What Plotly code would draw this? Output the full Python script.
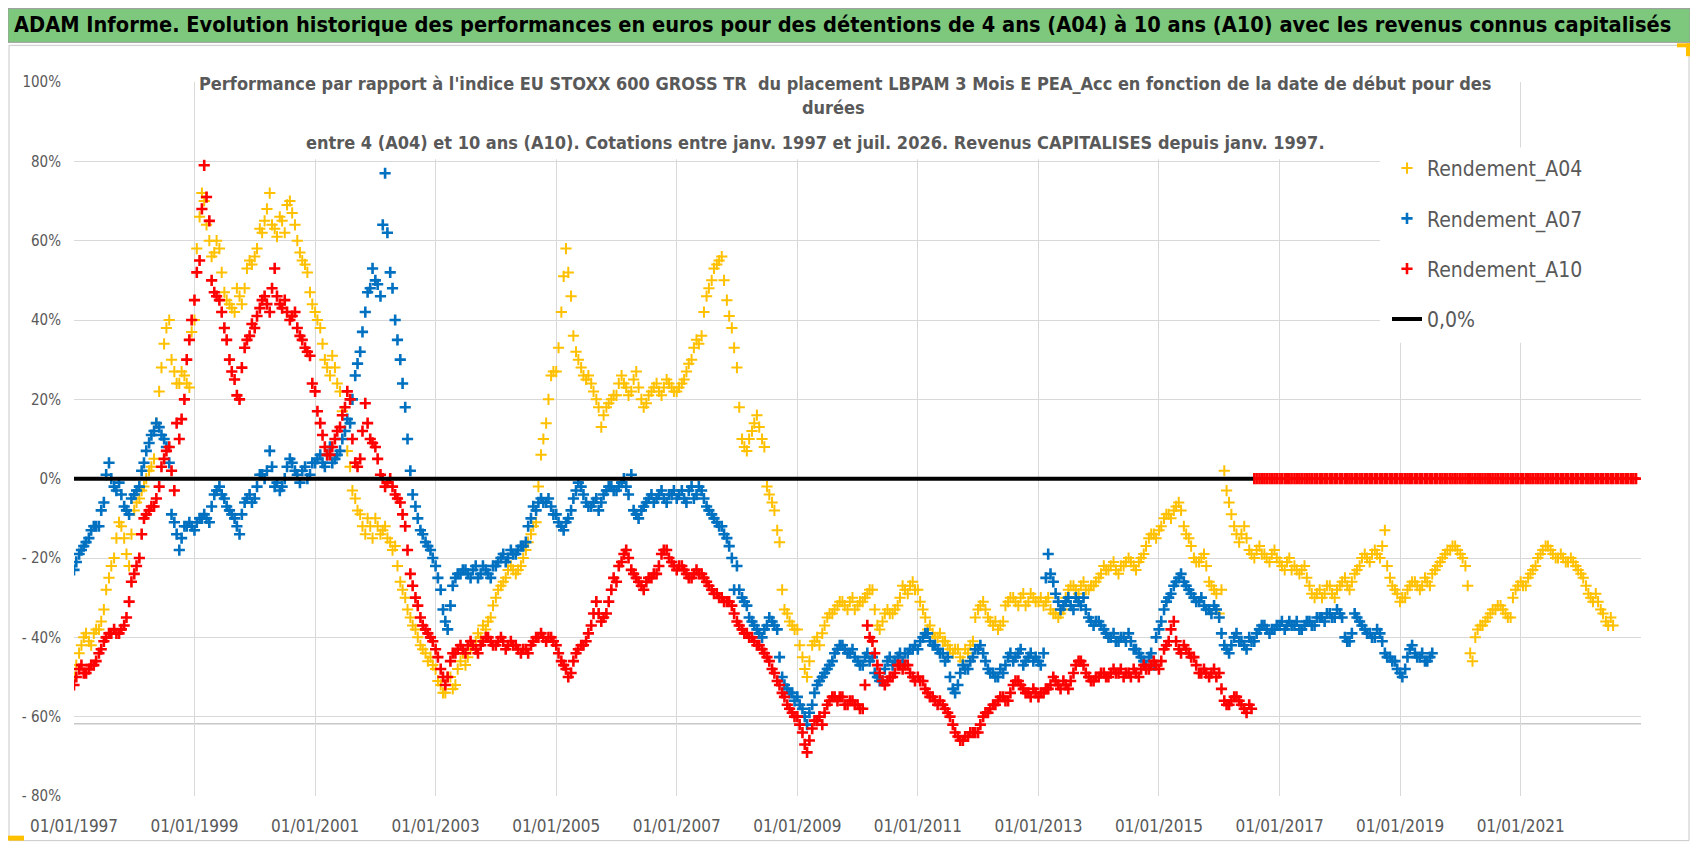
import pandas as pd
import plotly.graph_objects as go

# ---------------- data (values in %) ----------------
# month-start readings
a04_start = "1997-01-01"
a04 = [
    -50, -44, -40, -41, -39, -38, -33, -25, -20, -11, -15, -22,   # 1997
    -8, -5, -2, 2, 5, 22, 34, 40, 27, 24, 26, 23,                 # 1998
    40, 66, 70, 60, 57, 58, 47, 44, 42, 46, 48, 55,               # 1999
    56, 63, 65, 72, 63, 66, 62, 70, 64, 57, 54, 47,               # 2000
    42, 38, 30, 26, 28, 22, 12, 3, -5, -9, -14, -12,              # 2001
    -10, -14, -12, -16, -17, -26, -30, -35, -38, -42, -44, -45,   # 2002
    -48, -52, -54, -50, -52, -46, -47, -43, -41, -40, -38, -35,   # 2003
    -30, -27, -25, -22, -24, -22, -18, -14, -11, 6, 14, 26,       # 2004
    27, 42, 58, 46, 32, 28, 25, 24, 20, 13, 18, 20,               # 2005
    21, 26, 23, 22, 27, 20, 19, 22, 24, 21, 25, 23,               # 2006
    22, 24, 27, 30, 35, 36, 46, 50, 54, 56, 45, 38,               # 2007
    28, 10, 7, 12, 16, 10, -2, -6, -13, -28, -34, -37,            # 2008
    -38, -45, -50, -42, -40, -39, -35, -34, -32, -31, -33, -30,   # 2009
    -32, -31, -29, -28, -37, -36, -33, -34, -32, -27, -29, -26,   # 2010
    -28, -33, -38, -39, -40, -41, -42, -44, -43, -46, -44, -41,   # 2011
    -33, -31, -35, -37, -38, -36, -31, -30, -32, -29, -31, -30,   # 2012
    -31, -32, -30, -34, -35, -33, -28, -27, -29, -26, -28, -27,   # 2013
    -25, -22, -23, -21, -24, -22, -20, -22, -21, -19, -15, -14,   # 2014
    -13, -10, -9, -8, -6, -12, -15, -20, -21, -19, -26, -28,      # 2015
    -34, 2, -6, -12, -16, -12, -18, -20, -17, -19, -21, -18,      # 2016
    -21, -23, -20, -22, -24, -22, -27, -30, -28, -29, -27, -30,   # 2017
    -27, -25, -28, -24, -22, -19, -21, -18, -20, -13, -25, -28,   # 2018
    -31, -30, -27, -26, -28, -25, -27, -23, -21, -19, -18, -17,   # 2019
    -19, -22, -44, -40, -37, -36, -34, -33, -32, -34, -35, -28,   # 2020
    -26, -27, -24, -22, -19, -17, -18, -20, -19, -21, -20, -22,   # 2021
    -24, -27, -30, -29, -33, -36, -35,                            # 2022
]
# mid-month readings
a04_mid = [
    -47, -42, -39, -42, -38, -36, -28, -22, -15, -12, -19, -14,   # 1997
    -6, -3, 0, 3, 14, 28, 38, 30, 24, 27, 24, 37,                 # 1998
    58, 72, 64, 56, 60, 52, 45, 43, 48, 44, 53, 54,               # 1999
    58, 62, 68, 64, 61, 65, 69, 67, 60, 55, 52, 44,               # 2000
    40, 34, 28, 31, 24, 17, 7, -3, -8, -12, -10, -15,             # 2001
    -12, -13, -15, -18, -22, -28, -33, -37, -40, -43, -46, -47,   # 2002
    -51, -54, -50, -53, -48, -44, -45, -42, -39, -37, -36, -32,   # 2003
    -28, -26, -23, -23, -23, -20, -16, -12, -2, 10, 20, 27,       # 2004
    33, 51, 52, 36, 30, 26, 26, 22, 18, 16, 19, 21,               # 2005
    24, 24, 21, 25, 23, 18, 21, 23, 22, 23, 24, 22,               # 2006
    23, 25, 29, 33, 34, 42, 48, 53, 55, 50, 41, 33,               # 2007
    18, 8, 10, 14, 13, 8, -4, -8, -16, -33, -36, -38,             # 2008
    -42, -48, -46, -41, -42, -37, -34, -33, -31, -32, -31, -33,   # 2009
    -31, -30, -28, -33, -38, -34, -34, -33, -30, -28, -27, -28,   # 2010
    -31, -35, -37, -40, -39, -41, -43, -43, -45, -43, -42, -35,   # 2011
    -32, -33, -36, -36, -37, -32, -30, -31, -30, -32, -29, -31,   # 2012
    -30, -31, -33, -34, -34, -30, -27, -28, -27, -28, -27, -26,   # 2013
    -24, -23, -22, -23, -22, -21, -21, -23, -20, -17, -14, -15,   # 2014
    -12, -9, -10, -7, -8, -14, -17, -21, -20, -22, -27, -29,      # 2015
    -28, -3, -9, -14, -14, -15, -19, -18, -19, -20, -19, -20,     # 2016
    -22, -21, -23, -23, -23, -25, -29, -29, -30, -27, -29, -28,   # 2017
    -26, -27, -26, -23, -20, -20, -19, -19, -17, -22, -27, -29,   # 2018
    -30, -28, -26, -27, -27, -26, -24, -22, -20, -18, -17, -18,   # 2019
    -20, -27, -46, -38, -37, -35, -33, -32, -33, -35, -30, -27,   # 2020
    -27, -25, -23, -20, -18, -17, -19, -20, -20, -21, -21, -23,   # 2021
    -25, -29, -31, -31, -34, -37, -37,                            # 2022
]

a07_start = "1997-01-01"
a07 = [
    -23, -19, -17, -15, -12, -12, -6, 4, -2, -1, -7, -9,          # 1997
    -4, -2, 4, 9, 12, 13, 10, 4, -11, -18, -12, -11,              # 1998
    -13, -10, -9, -11, -4, -2, -5, -8, -10, -14, -6, -4,          # 1999
    -5, 1, 0, 7, -2, -3, 0, 5, 2, -1, 3, 1,                       # 2000
    4, 6, 3, 8, 5, 7, 12, 14, 26, 32, 42, 48,                     # 2001
    50, 46, 77, 52, 40, 30, 18, 2, -7, -13, -16, -18,             # 2002
    -22, -28, -36, -32, -25, -24, -23, -25, -22, -24, -23, -25,   # 2003
    -22, -20, -21, -18, -19, -17, -16, -10, -8, -5, -6, -7,       # 2004
    -9, -12, -11, -8, -3, -2, -6, -7, -5, -6, -3, -2,             # 2005
    -3, -1, -2, 1, -9, -8, -6, -4, -5, -3, -6, -4,                # 2006
    -5, -3, -6, -2, -4, -3, -7, -9, -11, -12, -15, -20,           # 2007
    -22, -30, -32, -36, -38, -40, -37, -36, -38, -50, -53, -54,   # 2008
    -55, -58, -62, -57, -52, -50, -48, -46, -43, -42, -44, -43,   # 2009
    -46, -47, -44, -45, -50, -51, -46, -47, -45, -46, -44, -43,   # 2010
    -43, -40, -39, -42, -43, -44, -45, -53, -52, -47, -48, -45,   # 2011
    -43, -44, -48, -49, -50, -49, -45, -46, -44, -47, -45, -46,   # 2012
    -46, -44, -19, -26, -31, -32, -30, -33, -31, -30, -35, -37,   # 2013
    -36, -38, -40, -39, -41, -40, -39, -43, -44, -46, -45, -47,   # 2014
    -38, -33, -30, -27, -25, -26, -28, -30, -31, -32, -33, -32,   # 2015
    -35, -42, -44, -40, -41, -42, -40, -41, -38, -37, -39, -38,   # 2016
    -37, -38, -36, -37, -38, -37, -36, -37, -35, -36, -34, -35,   # 2017
    -34, -40, -41, -34, -36, -38, -39, -40, -39, -44, -45, -46,   # 2018
    -49, -48, -43, -44, -45, -46, -45,                            # 2019
]
a07_mid = [
    -21, -18, -16, -13, -12, -8, 1, 0, -3, -4, -8, -5,            # 1997
    -3, 2, 7, 11, 14, 11, 8, -9, -14, -15, -12, -12,              # 1998
    -11, -10, -10, -7, -3, -4, -7, -9, -12, -9, -5, -6,           # 1999
    -2, 1, 2, 3, -1, -2, 3, 4, 1, 2, 0, 4,                        # 2000
    5, 4, 6, 4, 6, 10, 15, 20, 29, 37, 47, 53,                    # 2001
    49, 64, 62, 48, 35, 24, 10, -4, -10, -14, -17, -20,           # 2002
    -25, -33, -38, -27, -24, -23, -24, -23, -25, -22, -24, -22,   # 2003
    -21, -19, -20, -19, -18, -17, -12, -7, -6, -6, -5, -9,        # 2004
    -11, -13, -10, -5, -1, -4, -7, -6, -8, -4, -2, -3,            # 2005
    -2, 0, -4, -8, -10, -7, -5, -6, -4, -5, -4, -3,               # 2006
    -4, -5, -3, -5, -2, -5, -8, -10, -12, -14, -17, -28,          # 2007
    -28, -31, -35, -37, -39, -38, -35, -37, -45, -52, -54, -56,   # 2008
    -57, -60, -59, -54, -51, -49, -47, -44, -42, -43, -44, -45,   # 2009
    -47, -45, -46, -49, -51, -48, -45, -46, -44, -44, -43, -42,   # 2010
    -41, -39, -41, -42, -44, -46, -50, -54, -49, -48, -46, -43,   # 2011
    -42, -46, -49, -50, -48, -47, -44, -45, -43, -46, -44, -45,   # 2012
    -47, -25, -24, -29, -33, -31, -32, -30, -32, -33, -36, -36,   # 2013
    -37, -39, -40, -41, -40, -41, -41, -43, -45, -47, -44, -40,   # 2014
    -36, -31, -29, -26, -24, -27, -29, -31, -30, -33, -34, -33,   # 2015
    -39, -43, -42, -39, -41, -43, -41, -39, -37, -38, -38, -37,   # 2016
    -36, -37, -37, -36, -38, -36, -37, -35, -35, -34, -35, -33,   # 2017
    -35, -41, -39, -35, -37, -39, -40, -38, -41, -45, -46, -48,   # 2018
    -50, -45, -42, -45, -44, -46, -44,                            # 2019
]

a10_start = "1997-01-01"
a10 = [
    -52, -48, -49, -48, -47, -44, -41, -39, -38, -39, -37, -31,   # 1997
    -24, -20, -10, -8, -7, -2, 5, 8, -3, 10, 20, 35,              # 1998
    45, 55, 79, 65, 47, 45, 38, 30, 25, 20, 33, 36,               # 1999
    38, 43, 46, 42, 53, 44, 45, 40, 42, 36, 33, 31,               # 2000
    22, 14, 8, 6, 10, 13, 18, 20, 4, 5, 19, 10,                   # 2001
    8, 1, -2, 0, -4, -6, -12, -24, -30, -35, -38, -40,            # 2002
    -43, -48, -52, -46, -44, -42, -44, -41, -43, -42, -40, -41,   # 2003
    -42, -40, -43, -41, -42, -44, -43, -42, -40, -39, -41, -40,   # 2004
    -42, -46, -48, -49, -44, -42, -41, -37, -31, -36, -34, -28,   # 2005
    -26, -21, -18, -23, -25, -27, -26, -25, -24, -19, -18, -21,   # 2006
    -23, -22, -24, -25, -23, -24, -26, -28, -29, -30, -31, -32,   # 2007
    -36, -38, -39, -40, -42, -43, -45, -48, -51, -54, -57, -59,   # 2008
    -60, -64, -69, -63, -61, -62, -57, -55, -56, -55, -57, -56,   # 2009
    -57, -58, -37, -41, -47, -51, -51, -50, -47, -48, -47, -50,   # 2010
    -50, -51, -54, -55, -57, -57, -59, -62, -65, -66, -65, -64,   # 2011
    -64, -60, -59, -57, -56, -55, -56, -52, -51, -53, -54, -53,   # 2012
    -55, -54, -53, -50, -52, -51, -53, -49, -46, -47, -50, -51,   # 2013
    -50, -49, -50, -48, -49, -50, -49, -48, -50, -47, -48, -46,   # 2014
    -48, -43, -41, -36, -43, -42, -44, -45, -49, -48, -50, -48,   # 2015
    -49, -56, -57, -55, -56, -58, -57, 0, 0, 0, 0, 0,             # 2016
    0, 0, 0, 0, 0, 0, 0, 0, 0, 0, 0, 0,                           # 2017
    0, 0, 0, 0, 0, 0, 0, 0, 0, 0, 0, 0,                           # 2018
    0, 0, 0, 0, 0, 0, 0, 0, 0, 0, 0, 0,                           # 2019
    0, 0, 0, 0, 0, 0, 0, 0, 0, 0, 0, 0,                           # 2020
    0, 0, 0, 0, 0, 0, 0, 0, 0, 0, 0, 0,                           # 2021
    0, 0, 0, 0, 0, 0, 0, 0, 0, 0, 0, 0,                           # 2022
]
a10_mid = [
    -50, -47, -49, -47, -46, -43, -40, -39, -39, -38, -35, -26,   # 1997
    -22, -14, -9, -7, -5, 3, 7, 2, 14, 15, 30, 40,                # 1998
    52, 68, 71, 50, 46, 42, 35, 27, 21, 28, 35, 39,               # 1999
    41, 45, 44, 48, 46, 43, 42, 41, 38, 35, 32, 24,               # 2000
    17, 11, 6, 8, 12, 16, 22, 10, 3, 12, 14, 9,                   # 2001
    5, 0, -1, -2, -5, -9, -18, -27, -32, -37, -39, -41,           # 2002
    -45, -50, -50, -44, -43, -43, -42, -42, -44, -41, -40, -42,   # 2003
    -41, -41, -42, -42, -43, -43, -44, -41, -40, -40, -40, -41,   # 2004
    -44, -47, -50, -46, -43, -42, -39, -34, -34, -35, -31, -25,   # 2005
    -22, -19, -20, -24, -26, -28, -25, -24, -22, -18, -20, -22,   # 2006
    -22, -23, -25, -24, -24, -25, -27, -29, -30, -31, -31, -34,   # 2007
    -37, -39, -40, -41, -42, -44, -46, -49, -52, -55, -58, -60,   # 2008
    -62, -67, -66, -61, -60, -59, -56, -55, -55, -57, -56, -57,   # 2009
    -58, -52, -40, -44, -49, -52, -50, -49, -47, -47, -49, -51,   # 2010
    -51, -53, -55, -56, -56, -58, -60, -64, -66, -65, -64, -64,   # 2011
    -62, -59, -58, -57, -55, -56, -54, -51, -52, -54, -55, -54,   # 2012
    -54, -53, -52, -51, -53, -52, -51, -47, -46, -49, -51, -50,   # 2013
    -49, -50, -49, -49, -48, -49, -50, -49, -48, -48, -47, -47,   # 2014
    -46, -42, -38, -41, -44, -43, -45, -47, -49, -49, -49, -50,   # 2015
    -53, -57, -56, -55, -57, -59, -58, 0, 0, 0, 0, 0,             # 2016
    0, 0, 0, 0, 0, 0, 0, 0, 0, 0, 0, 0,                           # 2017
    0, 0, 0, 0, 0, 0, 0, 0, 0, 0, 0, 0,                           # 2018
    0, 0, 0, 0, 0, 0, 0, 0, 0, 0, 0, 0,                           # 2019
    0, 0, 0, 0, 0, 0, 0, 0, 0, 0, 0, 0,                           # 2020
    0, 0, 0, 0, 0, 0, 0, 0, 0, 0, 0, 0,                           # 2021
    0, 0, 0, 0, 0, 0, 0, 0, 0, 0, 0,                              # 2022
]

zero_dates = ["1997-01-01", "2016-07-25"]
zero_values = [0, 0]
low_ref_value = -61.8

y_tickvals = [100, 80, 60, 40, 20, 0, -20, -40, -60, -80]
y_ticktext = ["100%", "80%", "60%", "40%", "20%", "0%", "- 20%", "- 40%", "- 60%", "- 80%"]
x_range = ["1997-01-01", "2022-12-31"]

series_names = ["Rendement_A04", "Rendement_A07", "Rendement_A10", "0,0%"]
series_colors = ["#FFC000", "#0070C0", "#FF0000", "#000000"]

banner_title = ("ADAM Informe. Evolution historique des performances en euros pour des "
                "détentions de 4 ans (A04) à 10 ans (A10) avec les revenus connus capitalisés")
sub_line1 = ("Performance par rapport à l'indice EU STOXX 600 GROSS TR  du placement LBPAM 3 Mois "
             "E PEA_Acc en fonction de la date de début pour des")
sub_line2 = "durées"
sub_line3 = ("entre 4 (A04) et 10 ans (A10). Cotations entre janv. 1997 et juil. 2026. "
             "Revenus CAPITALISES depuis janv. 1997.")

# ---------------- figure ----------------
FONT = "Liberation Sans Narrow, DejaVu Sans Condensed, Liberation Sans, sans-serif"
OFF = 8                       # page body margin
W, H = 1682, 840
ML, MR, MT, MB = 66, 49, 74, 46
PW, PH = W - ML - MR, H - MT - MB


def fx(x):   # screen x -> paper
    return (x - OFF - ML) / PW


def fy(y):   # screen y -> paper
    return 1 - (y - OFF - MT) / PH


fig = go.Figure()

marker_widths = [2.0, 2.6, 2.6]
for (name, start, vals, mids, col), lw in zip([
    (series_names[0], a04_start, a04, a04_mid, series_colors[0]),
    (series_names[1], a07_start, a07, a07_mid, series_colors[1]),
    (series_names[2], a10_start, a10, a10_mid, series_colors[2]),
], marker_widths):
    d1 = pd.date_range(start, periods=len(vals), freq="MS")
    d2 = pd.date_range(start, periods=len(mids), freq="MS") + pd.Timedelta(days=14)
    xs = list(d1) + list(d2)
    ys = list(vals) + list(mids)
    fig.add_trace(go.Scatter(
        x=xs, y=ys, mode="markers", name=name, legendgroup=name,
        marker=dict(symbol="cross-thin", size=8, line=dict(width=lw, color=col), color=col),
    ))

fig.add_trace(go.Scatter(
    x=pd.to_datetime(zero_dates), y=zero_values, mode="lines", name=series_names[3],
    legendgroup=series_names[3], line=dict(color=series_colors[3], width=4),
))

shapes = [
    dict(type="line", xref="paper", yref="y", x0=0, x1=1, y0=low_ref_value, y1=low_ref_value,
         line=dict(color="#c8c8c8", width=1.5), layer="below"),
    dict(type="rect", xref="paper", yref="paper", x0=fx(9), x1=fx(1689), y0=fy(847), y1=fy(45),
         line=dict(color="#c8c8c8", width=1), layer="below"),
    dict(type="rect", xref="paper", yref="paper", x0=fx(8), x1=fx(1690), y0=fy(42), y1=fy(8),
         fillcolor="#7EC87E", line=dict(color="#9a9a9a", width=1), layer="above"),
    dict(type="rect", xref="paper", yref="paper", x0=fx(196), x1=fx(1500), y0=fy(160), y1=fy(66),
         fillcolor="white", line=dict(width=0), layer="above"),
    dict(type="rect", xref="paper", yref="paper", x0=fx(1380), x1=fx(1688), y0=fy(345), y1=fy(148),
         fillcolor="white", line=dict(width=0), layer="above"),
    dict(type="rect", xref="paper", yref="paper", x0=fx(1677), x1=fx(1690), y0=fy(47), y1=fy(43),
         fillcolor="#FFC000", line=dict(width=0), layer="above"),
    dict(type="rect", xref="paper", yref="paper", x0=fx(1686), x1=fx(1690), y0=fy(56), y1=fy(43),
         fillcolor="#FFC000", line=dict(width=0), layer="above"),
    dict(type="rect", xref="paper", yref="paper", x0=fx(8), x1=fx(24), y0=fy(847), y1=fy(842),
         fillcolor="#FFC000", line=dict(width=0), layer="above"),
]

annotations = [
    dict(text="<b>" + banner_title + "</b>", xref="paper", yref="paper", x=fx(842), y=fy(24),
         xanchor="center", yanchor="middle", showarrow=False,
         font=dict(family=FONT, size=21.6, color="#000000")),
    dict(text="<b>" + sub_line1 + "</b>", xref="paper", yref="paper", x=fx(845), y=fy(84),
         xanchor="center", yanchor="middle", showarrow=False,
         font=dict(family=FONT, size=18, color="#595959")),
    dict(text="<b>" + sub_line2 + "</b>", xref="paper", yref="paper", x=fx(833), y=fy(108),
         xanchor="center", yanchor="middle", showarrow=False,
         font=dict(family=FONT, size=18, color="#595959")),
    dict(text="<b>" + sub_line3 + "</b>", xref="paper", yref="paper", x=fx(815), y=fy(143),
         xanchor="center", yanchor="middle", showarrow=False,
         font=dict(family=FONT, size=18, color="#595959")),
]

fig.update_layout(
    width=W, height=H,
    margin=dict(l=ML, r=MR, t=MT, b=MB),
    paper_bgcolor="white", plot_bgcolor="white",
    font=dict(family=FONT, color="#595959"),
    showlegend=True,
    legend=dict(x=fx(1387), y=fy(148.5), xanchor="left", yanchor="top",
                bgcolor="rgba(255,255,255,0)", font=dict(family=FONT, size=21, color="#595959"),
                traceorder="grouped", tracegroupgap=20),
    shapes=shapes,
    annotations=annotations,
    xaxis=dict(type="date", range=x_range, tick0="1997-01-01", dtick="M24",
               tickformat="%d/%m/%Y", showgrid=True, gridcolor="#d9d9d9", gridwidth=1,
               zeroline=False, showline=False, ticks="", ticklabelstandoff=18,
               tickfont=dict(family=FONT, size=17, color="#595959")),
    yaxis=dict(range=[-80, 100], tickvals=y_tickvals, ticktext=y_ticktext,
               showgrid=True, gridcolor="#d9d9d9", gridwidth=1, zeroline=False,
               showline=False, ticks="", ticklabelstandoff=12,
               tickfont=dict(family=FONT, size=15, color="#595959")),
)

fig.write_html("out.html")
